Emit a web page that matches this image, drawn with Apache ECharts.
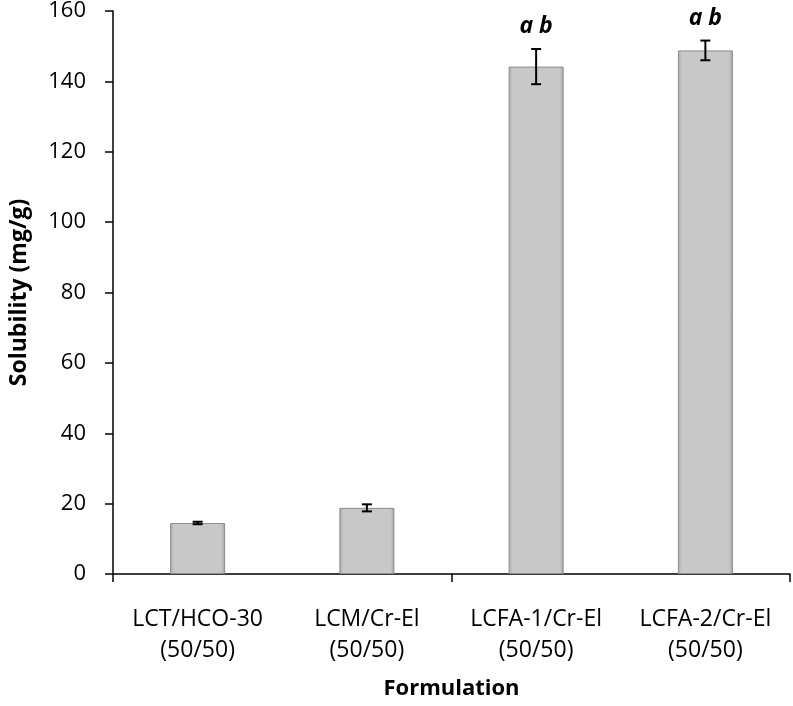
<!DOCTYPE html>
<html>
<head>
<meta charset="utf-8">
<script src="https://cdn.jsdelivr.net/npm/echarts@6/dist/echarts.min.js"></script>
<style>
html,body{margin:0;padding:0;background:#fff;}
#chart{width:793px;height:706px;}
</style>
</head>
<body>
<div id="chart"></div>
<script>
const categories = ['LCT/HCO-30\n(50/50)', 'LCM/Cr-El\n(50/50)', 'LCFA-1/Cr-El\n(50/50)', 'LCFA-2/Cr-El\n(50/50)'];
const solubility = [14.5, 18.8, 144.2, 148.8];
const errors = [0.35, 1.0, 5.0, 2.8];
const annotations = ['', '', 'a b', 'a b'];
const yTicks = [0, 20, 40, 60, 80, 100, 120, 140, 160];

const FONT = '"Open Sans", "Liberation Sans", sans-serif';
const chart = echarts.init(document.getElementById('chart'));

const errData = categories.map((c, i) => [i, solubility[i] - errors[i], solubility[i] + errors[i], annotations[i]]);

chart.setOption({
  animation: false,
  backgroundColor: '#fff',
  grid: {left: 110, right: 3, top: 10, bottom: 132},
  xAxis: {
    type: 'category',
    data: categories,
    name: 'Formulation',
    nameLocation: 'middle',
    nameGap: 104,
    nameTextStyle: {fontFamily: FONT, fontSize: 22, fontWeight: 'bold', color: '#000'},
    axisLine: {lineStyle: {color: '#000', width: 1.5}},
    axisTick: {show: true, interval: function (idx) { return idx % 2 === 0; }, length: 8, lineStyle: {color: '#000', width: 1.5}},
    axisLabel: {fontFamily: FONT, fontSize: 23, color: '#000', lineHeight: 31, margin: 30, interval: 0}
  },
  yAxis: {
    type: 'value',
    min: 0, max: 160, interval: 20,
    name: 'Solubility (mg/g)',
    nameLocation: 'middle',
    nameGap: 82,
    nameTextStyle: {fontFamily: FONT, fontSize: 23, fontWeight: 'bold', color: '#000'},
    axisLine: {show: true, lineStyle: {color: '#000', width: 1.5}},
    axisTick: {show: true, length: 8, lineStyle: {color: '#000', width: 1.5}},
    axisLabel: {fontFamily: FONT, fontSize: 22, color: '#000', margin: 27,
      formatter: v => yTicks.includes(v) ? String(v) : ''},
    splitLine: {show: false}
  },
  series: [
    {
      type: 'bar',
      data: solubility,
      barWidth: 55,
      itemStyle: {
        color: new echarts.graphic.LinearGradient(0, 0, 1, 0, [
          {offset: 0, color: '#a9a9a9'},
          {offset: 0.07, color: '#c8c8c8'},
          {offset: 0.93, color: '#c8c8c8'},
          {offset: 1, color: '#a0a0a0'}
        ]),
        borderColor: '#8c8c8c',
        borderWidth: 1
      }
    },
    {
      type: 'custom',
      data: errData,
      z: 10,
      renderItem: function (params, api) {
        const x = api.value(0);
        const lo = api.coord([x, api.value(1)]);
        const hi = api.coord([x, api.value(2)]);
        const half = 5;
        const style = {stroke: '#000', lineWidth: 2};
        const children = [
          {type: 'line', shape: {x1: lo[0], y1: lo[1], x2: hi[0], y2: hi[1]}, style},
          {type: 'line', shape: {x1: lo[0] - half, y1: lo[1], x2: lo[0] + half, y2: lo[1]}, style},
          {type: 'line', shape: {x1: hi[0] - half, y1: hi[1], x2: hi[0] + half, y2: hi[1]}, style}
        ];
        const txt = api.value(3);
        if (txt) {
          children.push({type: 'text', style: {
            text: txt, x: hi[0], y: hi[1] - 11, align: 'center', verticalAlign: 'bottom',
            font: 'italic bold 23px ' + FONT, fill: '#000'
          }});
        }
        return {type: 'group', children};
      }
    }
  ]
});
</script>
</body>
</html>
